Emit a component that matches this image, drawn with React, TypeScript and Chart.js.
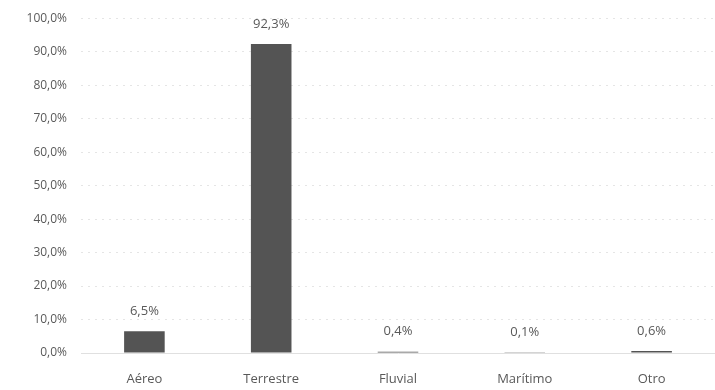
import React, { useEffect, useRef } from "react";
import { Chart, registerables } from "chart.js";

Chart.register(...registerables);

const categories = ["Aéreo", "Terrestre", "Fluvial", "Marítimo", "Otro"];
const values = [6.5, 92.3, 0.4, 0.1, 0.6];
const yMin = 0;
const yMax = 100;
const yStep = 10;

const fmt = (v: number) => v.toFixed(1).replace(".", ",") + "%";

const labelPlugin = {
  id: "barLabels",
  afterDatasetsDraw(chart: any) {
    const ctx = chart.ctx;
    const meta = chart.getDatasetMeta(0);
    ctx.save();
    ctx.fillStyle = "#595959";
    ctx.font = "13px 'Open Sans', sans-serif";
    ctx.textAlign = "center";
    ctx.textBaseline = "middle";
    meta.data.forEach((bar: any, i: number) => {
      ctx.fillText(fmt(values[i]), bar.x, bar.y - 20);
    });
    ctx.restore();
  },
};

export default function App() {
  const ref = useRef<HTMLCanvasElement>(null);
  useEffect(() => {
    if (!ref.current) return;
    const chart = new Chart(ref.current, {
      type: "bar",
      data: {
        labels: categories,
        datasets: [
          {
            data: values,
            backgroundColor: "#545454",
            barPercentage: 0.32 / 0.9,
            categoryPercentage: 0.9,
          },
        ],
      },
      options: {
        animation: false,
        responsive: false,
        maintainAspectRatio: false,
        layout: { padding: { top: 7, right: 0, left: 0, bottom: 0 } },
        plugins: { legend: { display: false }, tooltip: { enabled: false } },
        scales: {
          x: {
            grid: { display: false },
            border: { display: true, color: "#e0e0e0" },
            ticks: {
              color: "#595959",
              font: { family: "'Open Sans', sans-serif", size: 13 },
              padding: 10,
              maxRotation: 0,
            },
            afterFit(scale: any) {
              scale.height = 37;
            },
          },
          y: {
            min: yMin,
            max: yMax,
            grid: {
              color: "rgba(0,0,0,0.1)",
              drawTicks: false,
            },
            border: { display: false, dash: [2, 5] },
            ticks: {
              stepSize: yStep,
              color: "#595959",
              font: { family: "'Open Sans', sans-serif", size: 12 },
              padding: 14,
              callback: (v: any) => fmt(Number(v)),
            },
            afterFit(scale: any) {
              scale.width = 81;
            },
          },
        },
      },
      plugins: [labelPlugin],
    });
    return () => chart.destroy();
  }, []);
  return (
    <div style={{ position: "fixed", left: 0, top: 0, width: 715, height: 390, overflow: "hidden", background: "#fff" }}>
      <canvas ref={ref} width={715} height={393} style={{ position: "absolute", left: 0, top: -3 }} />
    </div>
  );
}
